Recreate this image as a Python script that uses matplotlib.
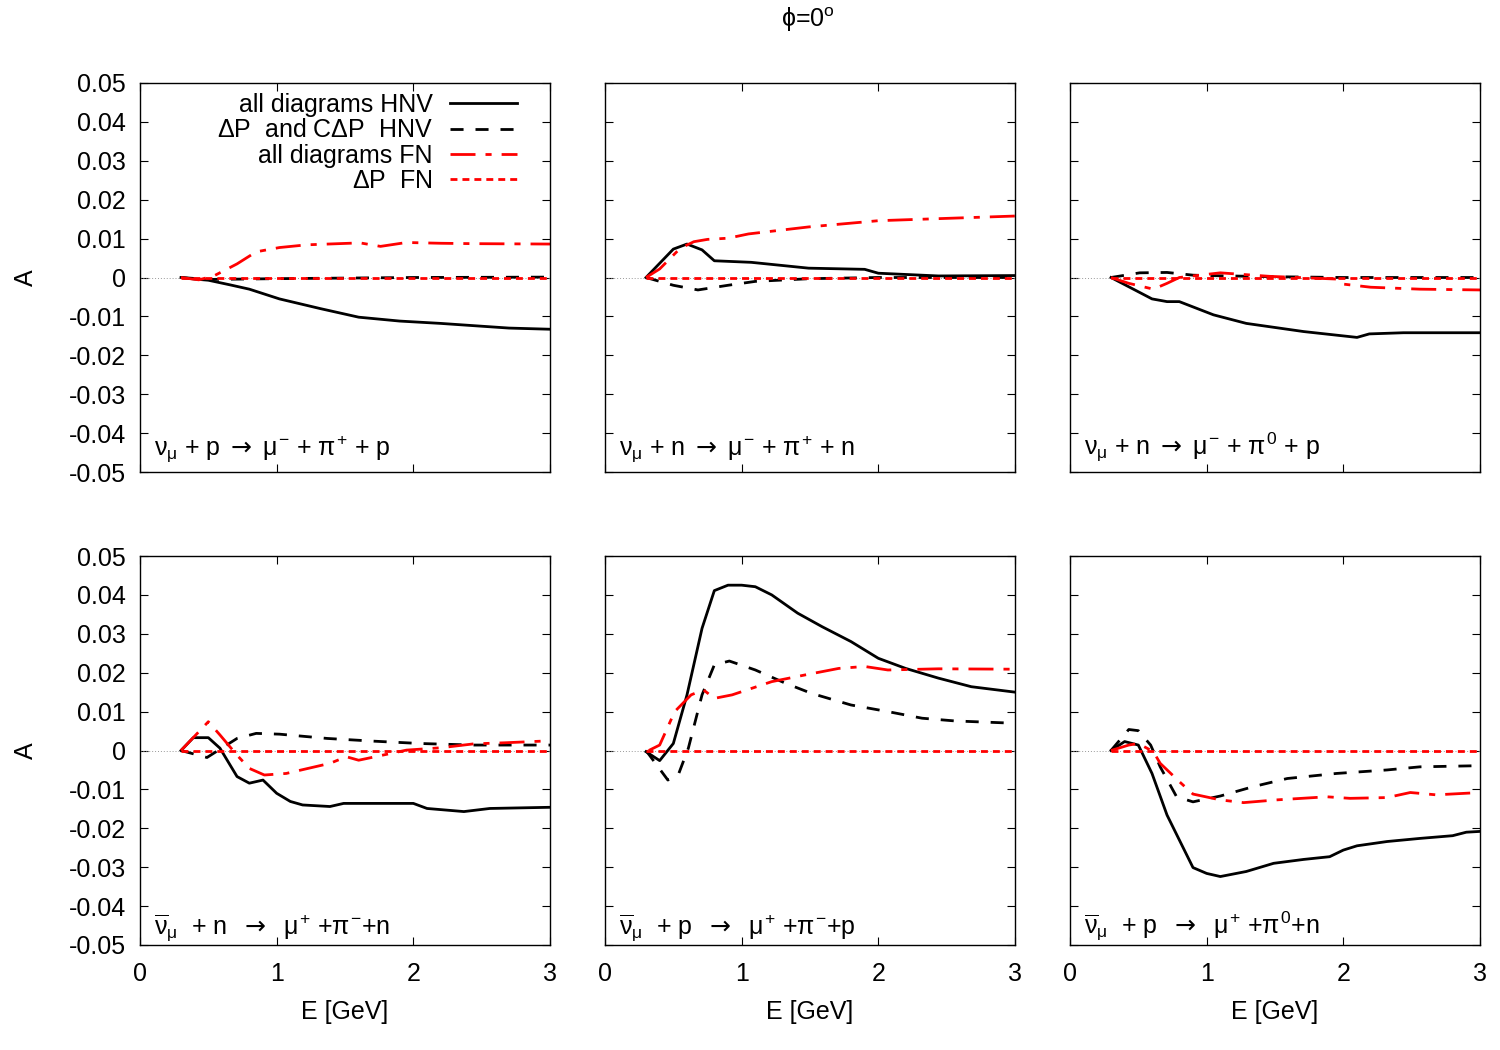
import numpy as np
import matplotlib
matplotlib.use("Agg")
import matplotlib.pyplot as plt

plt.rcParams['font.family'] = ['Liberation Sans', 'DejaVu Sans']
plt.rcParams['mathtext.fontset'] = 'custom'
plt.rcParams['mathtext.rm'] = 'Liberation Sans'
plt.rcParams['mathtext.it'] = 'Liberation Sans'
plt.rcParams['mathtext.bf'] = 'Liberation Sans'
plt.rcParams['mathtext.sf'] = 'DejaVu Sans'

# ---- data: energy E [GeV] and asymmetry A ----
# panel 1: nu_mu + p -> mu- + pi+ + p
p1_hnv_E = [0.3, 0.4, 0.5, 0.66, 0.8, 1.02, 1.32, 1.6, 1.9, 2.2, 2.49, 2.7, 3.0]
p1_hnv_A = [0.0, -0.0004, -0.0007, -0.0019, -0.003, -0.0055, -0.008, -0.0102, -0.0112, -0.0118, -0.0125, -0.013, -0.0133]
p1_dp_E = [0.3, 0.5, 1.0, 2.0, 3.0]
p1_dp_A = [0.0, -0.0005, -0.0003, 0.0, 0.0001]
p1_fn_E = [0.3, 0.43, 0.54, 0.71, 0.85, 1.02, 1.22, 1.61, 1.76, 1.95, 2.2, 2.44, 3.0]
p1_fn_A = [0.0, -0.0006, 0.0004, 0.0035, 0.0066, 0.0077, 0.0084, 0.0089, 0.0080, 0.0090, 0.0088, 0.0087, 0.0086]

# panel 2: nu_mu + n -> mu- + pi+ + n
p2_hnv_E = [0.3, 0.5, 0.6, 0.71, 0.8, 1.07, 1.49, 1.9, 2.0, 2.44, 3.0]
p2_hnv_A = [0.0, 0.0073, 0.0086, 0.0071, 0.0043, 0.0039, 0.0024, 0.0021, 0.0011, 0.0004, 0.0005]
p2_dp_E = [0.3, 0.5, 0.68, 0.9, 1.1, 1.5, 2.0, 3.0]
p2_dp_A = [0.0, -0.002, -0.0032, -0.002, -0.001, -0.0003, 0.0, 0.0]
p2_fn_E = [0.3, 0.4, 0.55, 0.65, 0.75, 0.9, 1.05, 1.49, 2.0, 2.5, 3.0]
p2_fn_A = [0.0, 0.0022, 0.0075, 0.0092, 0.0098, 0.0101, 0.0112, 0.013, 0.0146, 0.0152, 0.0158]

# panel 3: nu_mu + n -> mu- + pi0 + p
p3_hnv_E = [0.3, 0.6, 0.71, 0.8, 1.05, 1.29, 1.71, 2.1, 2.19, 2.44, 3.0]
p3_hnv_A = [0.0, -0.0055, -0.0062, -0.0062, -0.0096, -0.0118, -0.0139, -0.0154, -0.0145, -0.0142, -0.0142]
p3_dp_E = [0.3, 0.51, 0.71, 0.9, 1.0, 1.5, 2.0, 3.0]
p3_dp_A = [0.0, 0.0012, 0.0013, 0.0006, 0.0005, 0.0002, 0.0, 0.0]
p3_fn_E = [0.3, 0.43, 0.61, 0.71, 0.8, 1.1, 1.46, 1.95, 2.0, 2.2, 2.56, 3.0]
p3_fn_A = [0.0, -0.0015, -0.003, -0.0015, 0.0, 0.0012, 0.0003, -0.0004, -0.0017, -0.0025, -0.003, -0.0032]

# panel 4: anti-nu_mu + n -> mu+ + pi- + n
p4_hnv_E = [0.3, 0.39, 0.5, 0.585, 0.71, 0.8, 0.9, 1.0, 1.1, 1.19, 1.39, 1.49, 2.0, 2.1, 2.37, 2.56, 3.0]
p4_hnv_A = [0.0, 0.0033, 0.0033, 0.0006, -0.0067, -0.0084, -0.0076, -0.011, -0.0131, -0.014, -0.0144, -0.0136, -0.0136, -0.0149, -0.0157, -0.0149, -0.0146]
p4_dp_E = [0.3, 0.49, 0.71, 0.85, 1.02, 1.37, 1.71, 2.05, 2.44, 3.0]
p4_dp_A = [0.0, -0.0018, 0.0031, 0.0044, 0.0042, 0.0031, 0.0024, 0.0018, 0.0014, 0.0014]
p4_fn_E = [0.3, 0.5, 0.585, 0.71, 0.8, 0.91, 1.07, 1.39, 1.51, 1.6, 1.95, 2.2, 2.44, 2.68, 3.0]
p4_fn_A = [0.0, 0.0074, 0.004, -0.0012, -0.0046, -0.0063, -0.0059, -0.0033, -0.0016, -0.0025, 0.0001, 0.0007, 0.0017, 0.002, 0.0025]

# panel 5: anti-nu_mu + p -> mu+ + pi- + p
p5_hnv_E = [0.3, 0.4, 0.5, 0.6, 0.71, 0.8, 0.9, 1.0, 1.1, 1.22, 1.41, 1.59, 1.8, 2.0, 2.2, 2.44, 2.68, 3.0]
p5_hnv_A = [-0.0003, -0.0026, 0.0018, 0.0143, 0.0314, 0.0411, 0.0425, 0.0425, 0.0421, 0.040, 0.0353, 0.0318, 0.028, 0.0237, 0.0211, 0.0186, 0.0164, 0.015]
p5_dp_E = [0.3, 0.46, 0.54, 0.61, 0.71, 0.8, 0.91, 1.1, 1.32, 1.51, 1.8, 2.07, 2.32, 2.56, 3.0]
p5_dp_A = [0.0, -0.0076, -0.0059, 0.0006, 0.0143, 0.022, 0.023, 0.0207, 0.0173, 0.0147, 0.0117, 0.010, 0.0083, 0.0076, 0.007]
p5_fn_E = [0.32, 0.4, 0.51, 0.63, 0.72, 0.8, 0.93, 1.22, 1.46, 1.71, 1.9, 2.07, 2.44, 3.0]
p5_fn_A = [0.0, 0.0014, 0.010, 0.0143, 0.0156, 0.0134, 0.0143, 0.0177, 0.0194, 0.0211, 0.0216, 0.0207, 0.021, 0.0209]

# panel 6: anti-nu_mu + p -> mu+ + pi0 + n
p6_hnv_E = [0.3, 0.4, 0.5, 0.6, 0.71, 0.8, 0.9, 1.0, 1.1, 1.29, 1.49, 1.71, 1.9, 2.0, 2.1, 2.32, 2.56, 2.8, 2.9, 3.0]
p6_hnv_A = [0.0, 0.0023, 0.0014, -0.0059, -0.0166, -0.023, -0.0301, -0.0316, -0.0324, -0.0311, -0.029, -0.028, -0.0273, -0.0256, -0.0245, -0.0234, -0.0226, -0.0219, -0.021, -0.0208]
p6_dp_E = [0.3, 0.43, 0.5, 0.59, 0.66, 0.78, 0.9, 1.1, 1.34, 1.59, 1.95, 2.32, 2.56, 3.0]
p6_dp_A = [0.0, 0.0054, 0.0051, 0.0014, -0.0042, -0.0119, -0.0132, -0.0117, -0.0093, -0.0072, -0.0059, -0.005, -0.0042, -0.0039]
p6_fn_E = [0.3, 0.43, 0.5, 0.61, 0.66, 0.8, 0.9, 1.1, 1.27, 1.51, 1.88, 2.05, 2.32, 2.49, 2.68, 3.0]
p6_fn_A = [0.0, 0.0014, 0.0018, -0.0003, -0.0033, -0.008, -0.0112, -0.0127, -0.0134, -0.0127, -0.0119, -0.0123, -0.0121, -0.0108, -0.0114, -0.0108]

# Delta P FN: zero everywhere
dpfn_E = [0.3, 3.0]
dpfn_A = [0.0, 0.0]

arrow = r'$\mathsf{\rightarrow}$'
panel_labels = [
    r'$\nu_\mu$ + p ' + arrow + r' $\mu^{-}$ + $\pi^{+}$ + p',
    r'$\nu_\mu$ + n ' + arrow + r' $\mu^{-}$ + $\pi^{+}$ + n',
    r'$\nu_\mu$ + n ' + arrow + r' $\mu^{-}$ + $\pi^{0}$ + p',
    r'$\overline{\nu}_\mu$  + n  ' + arrow + r'  $\mu^{+}$ +$\pi^{-}$+n',
    r'$\overline{\nu}_\mu$  + p  ' + arrow + r'  $\mu^{+}$ +$\pi^{-}$+p',
    r'$\overline{\nu}_\mu$  + p  ' + arrow + r'  $\mu^{+}$ +$\pi^{0}$+n',
]
legend_labels = ['all diagrams HNV', r'$\Delta$P  and C$\Delta$P  HNV',
                 'all diagrams FN', r'$\Delta$P  FN']

panels = [
    (p1_hnv_E, p1_hnv_A, p1_dp_E, p1_dp_A, p1_fn_E, p1_fn_A),
    (p2_hnv_E, p2_hnv_A, p2_dp_E, p2_dp_A, p2_fn_E, p2_fn_A),
    (p3_hnv_E, p3_hnv_A, p3_dp_E, p3_dp_A, p3_fn_E, p3_fn_A),
    (p4_hnv_E, p4_hnv_A, p4_dp_E, p4_dp_A, p4_fn_E, p4_fn_A),
    (p5_hnv_E, p5_hnv_A, p5_dp_E, p5_dp_A, p5_fn_E, p5_fn_A),
    (p6_hnv_E, p6_hnv_A, p6_dp_E, p6_dp_A, p6_fn_E, p6_fn_A),
]

fig = plt.figure(figsize=(15, 10.5), dpi=100)
lefts = [140 / 1500, 605 / 1500, 1070 / 1500]
bottoms = [1 - 472 / 1050, 1 - 945 / 1050]
w, h = 410 / 1500, 389 / 1050

yt = np.round(np.arange(-0.05, 0.0501, 0.01), 2)
ylabels = ['0' if v == 0 else f'{v:.2f}' for v in yt]
lw = 2.0

for k, (hE, hA, dE, dA, fE, fA) in enumerate(panels):
    row, col = divmod(k, 3)
    ax = fig.add_axes([lefts[col], bottoms[row], w, h])
    ax.plot([0, 3], [0, 0], color='0.6', lw=0.7, ls=(0, (1, 2)))
    l1, = ax.plot(hE, hA, color='black', lw=lw)
    l2, = ax.plot(dE, dA, color='black', lw=lw, dashes=(4.7, 4.3))
    l3, = ax.plot(fE, fA, color='red', lw=lw, dashes=(9, 3.6, 2.2, 3.6))
    l4, = ax.plot(dpfn_E, dpfn_A, color='red', lw=lw, dashes=(2.5, 1.8))
    ax.set_xlim(0, 3)
    ax.set_ylim(-0.05, 0.05)
    ax.set_xticks([0, 1, 2, 3])
    ax.set_yticks(yt)
    ax.tick_params(direction='in', top=True, right=True, length=6, width=0.8,
                   labelsize=18)
    ax.tick_params(axis='x', pad=12)
    ax.tick_params(axis='y', pad=10)
    if col == 0:
        ax.set_yticklabels(ylabels)
        ax.set_ylabel('A', fontsize=18, labelpad=22)
    else:
        ax.set_yticklabels([])
    if row == 1:
        ax.set_xlabel('E [GeV]', fontsize=18, labelpad=10)
    else:
        ax.set_xticklabels([])
    for s in ax.spines.values():
        s.set_linewidth(1.0)
    ax.text(0.035, 0.02 if row == 0 else 0.006, panel_labels[k],
            transform=ax.transAxes, fontsize=18, ha='left', va='bottom')
    if k == 0:
        ax.legend([l1, l2, l3, l4], legend_labels, loc='upper right',
                  frameon=False, markerfirst=False, fontsize=18,
                  handlelength=2.7, labelspacing=0.05, borderaxespad=0.0,
                  handletextpad=0.7, bbox_to_anchor=(0.945, 1.0))

fig.text(808 / 1500, 1 - 20 / 1050, r'$\phi$=0$^{o}$', fontsize=18,
         ha='center', va='center')

fig.savefig('out.png', dpi=100)
